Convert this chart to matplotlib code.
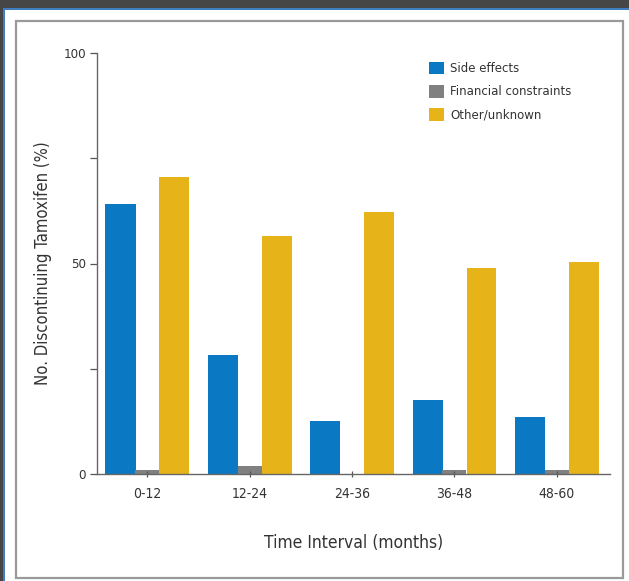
import matplotlib
matplotlib.use("Agg")
import matplotlib.pyplot as plt
from matplotlib.patches import Rectangle
from matplotlib.font_manager import FontProperties
import numpy as np

plt.rcParams['font.family'] = ['DejaVu Sans']
plt.rcParams['font.stretch'] = 'condensed'

categories = ["0-12", "12-24", "24-36", "36-48", "48-60"]
side_effects = [64.1, 28.3, 12.6, 17.6, 13.5]
financial = [1.0, 2.0, 0.0, 1.0, 1.0]
other = [70.5, 56.5, 62.2, 48.9, 50.4]
series_names = ["Side effects", "Financial constraints", "Other/unknown"]
colors = ["#0a78c2", "#808080", "#e6b418"]

fig = plt.figure(figsize=(6.29, 5.81), dpi=100)
fig.patch.set_facecolor("#464646")

W, H = 629, 581
def fx(px): return px / W
def fy(py): return 1 - py / H

# white panel with blue edge
fig.patches.append(Rectangle((fx(3), 0), 1 - fx(3), fy(8), transform=fig.transFigure,
                             facecolor="#3f7fbf", edgecolor="none", zorder=-3))
fig.patches.append(Rectangle((fx(5), 0), 1 - fx(5), fy(10), transform=fig.transFigure,
                             facecolor="white", edgecolor="none", zorder=-2))
# inner gray frame
fig.patches.append(Rectangle((fx(15.5), fy(578)), fx(623) - fx(15.5), fy(21) - fy(578),
                             transform=fig.transFigure, facecolor="none",
                             edgecolor="#9a9a9a", linewidth=1.6, zorder=-1))

ax = fig.add_axes([fx(97), fy(474), fx(610) - fx(97), fy(53) - fy(474)])
ax.set_facecolor("none")
ax.set_zorder(5)

x = np.arange(len(categories))
ax.bar(x - 0.26, side_effects, width=0.295, color=colors[0], label=series_names[0])
ax.bar(x, financial, width=0.235, color=colors[1], label=series_names[1])
ax.bar(x + 0.265, other, width=0.29, color=colors[2], label=series_names[2])

ax.set_xlim(-0.49, 4.52)
ax.set_ylim(0, 100)
ax.set_yticks([0, 50, 100])
ax.set_yticks([25, 75], minor=True)
ax.set_xticks(x)
ax.set_xticklabels(categories, fontsize=10, color="#333333")
ax.tick_params(axis='y', labelsize=9.5, labelcolor="#333333", length=5, width=0.9,
               color="#555555", pad=3)
ax.tick_params(axis='y', which='minor', length=5, width=0.9, color="#555555")
ax.tick_params(axis='x', length=4, width=0.9, color="#555555", pad=7, direction='inout')
for s in ["top", "right"]:
    ax.spines[s].set_visible(False)
for s in ["left", "bottom"]:
    ax.spines[s].set_color("#666666")
    ax.spines[s].set_linewidth(1.0)

ax.set_ylabel("No. Discontinuing Tamoxifen (%)", fontsize=12, color="#333333", labelpad=8)
ax.set_xlabel("Time Interval (months)", fontsize=12.5, color="#333333", labelpad=24)

leg_font = FontProperties(family="DejaVu Sans", stretch="normal", size=8.5)
leg = ax.legend(loc="upper left", bbox_to_anchor=(fx(429), fy(62)), bbox_transform=fig.transFigure,
                frameon=False, prop=leg_font, borderaxespad=0, borderpad=0,
                handlelength=1.25, handleheight=1.25, handletextpad=0.55, labelspacing=0.85)
for t in leg.get_texts():
    t.set_color("#333333")

fig.savefig("out.png", dpi=100, facecolor=fig.get_facecolor())
